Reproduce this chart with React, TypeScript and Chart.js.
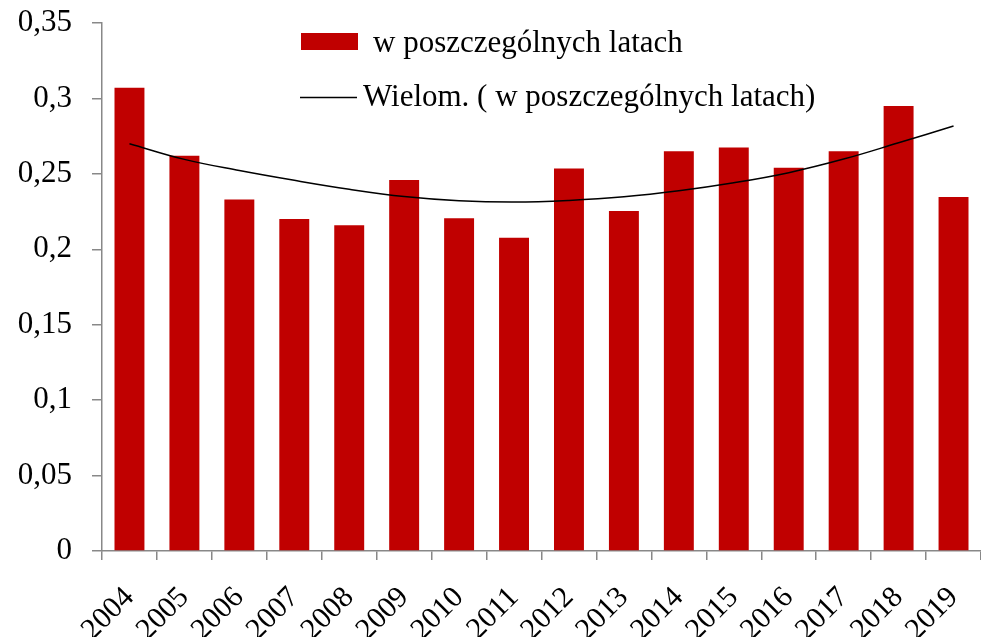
import React, { useEffect, useRef } from "react";
import { Chart, registerables } from "chart.js";

Chart.register(...registerables);

const years = ["2004","2005","2006","2007","2008","2009","2010","2011","2012","2013","2014","2015","2016","2017","2018","2019"];
const values = [0.307,0.262,0.233,0.220,0.216,0.246,0.2205,0.2077,0.2536,0.2254,0.265,0.2675,0.254,0.265,0.295,0.2346];
const trendValues = [0.270,0.2596,0.2522,0.2457,0.2398,0.2350,0.2322,0.2313,0.2324,0.2348,0.2388,0.2441,0.2508,0.2598,0.2706,0.2817];
const yTickLabels = ["0","0,05","0,1","0,15","0,2","0,25","0,3","0,35"];
const barLabel = "w poszczególnych latach";
const trendLabel = "Wielom. ( w poszczególnych latach)";

const FONT = "'Liberation Serif', 'Times New Roman', serif";
const AXIS = "#888888";
const RED = "#C00000";

const legendPlugin = {
  id: "insideLegend",
  afterDraw(chart: any) {
    const ctx = chart.ctx;
    ctx.save();
    ctx.font = `31px ${FONT}`;
    ctx.fillStyle = "#000";
    ctx.textBaseline = "alphabetic";
    ctx.textAlign = "left";
    ctx.fillStyle = RED;
    ctx.fillRect(301, 33, 57, 17);
    ctx.fillStyle = "#000";
    ctx.fillText(barLabel, 373, 52);
    ctx.strokeStyle = "#000";
    ctx.lineWidth = 1.5;
    ctx.beginPath();
    ctx.moveTo(300, 97.5);
    ctx.lineTo(357, 97.5);
    ctx.stroke();
    ctx.fillText(trendLabel, 363, 106);
    ctx.restore();
  },
};

export default function App() {
  const ref = useRef<HTMLCanvasElement>(null);
  useEffect(() => {
    if (!ref.current) return;
    const chart = new Chart(ref.current, {
      type: "bar",
      data: {
        labels: years,
        datasets: [
          {
            type: "line",
            label: trendLabel,
            data: trendValues,
            borderColor: "#000",
            borderWidth: 1.5,
            pointRadius: 0,
            tension: 0.4,
            fill: false,
            order: 0,
          } as any,
          {
            type: "bar",
            label: barLabel,
            data: values,
            backgroundColor: RED,
            borderWidth: 0,
            barPercentage: 0.545,
            categoryPercentage: 1,
            order: 1,
          },
        ],
      },
      options: {
        animation: false,
        responsive: false,
        layout: { padding: { top: 23, right: 0, left: 0, bottom: 0 } },
        plugins: {
          legend: { display: false },
          tooltip: { enabled: false },
        },
        scales: {
          x: {
            grid: {
              display: true,
              drawOnChartArea: false,
              drawTicks: true,
              tickLength: 9,
              color: AXIS,
              lineWidth: 1.5,
            },
            border: { display: true, color: AXIS, width: 1.5 },
            ticks: {
              color: "#000",
              font: { family: FONT, size: 30 },
              maxRotation: 45,
              minRotation: 45,
              padding: 20,
              autoSkip: false,
            },
            afterFit: (scale: any) => {
              scale.height = 86;
              scale.paddingLeft = 0;
              scale.paddingRight = 0;
            },
          },
          y: {
            min: 0,
            max: 0.35,
            grid: {
              display: true,
              drawOnChartArea: false,
              drawTicks: true,
              tickLength: 10,
              color: AXIS,
              lineWidth: 1.5,
            },
            border: { display: true, color: AXIS, width: 1.5 },
            ticks: {
              stepSize: 0.05,
              color: "#000",
              font: { family: FONT, size: 31 },
              padding: 20,
              callback: (_v: any, i: number) => yTickLabels[i],
            },
            afterFit: (scale: any) => {
              scale.width = 102;
              scale.paddingTop = 0;
              scale.paddingBottom = 0;
            },
          },
        },
      },
      plugins: [legendPlugin],
    });
    return () => chart.destroy();
  }, []);
  return (
    <div style={{ position: "absolute", left: 0, top: 0, width: 981, height: 637, background: "#fff" }}>
      <canvas ref={ref} width={981} height={637} />
    </div>
  );
}
